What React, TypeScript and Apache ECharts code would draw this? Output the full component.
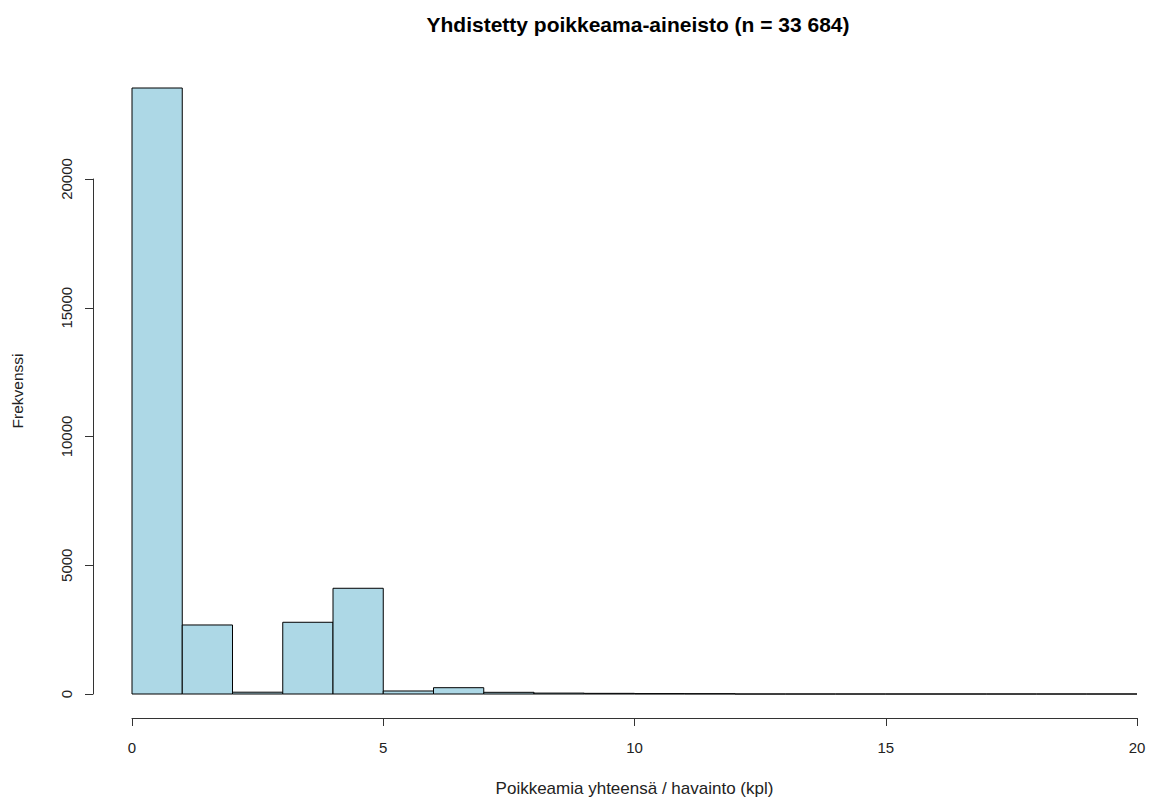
import React, { useEffect, useRef } from "react";
import * as echarts from "echarts";

const binStarts = [0, 1, 2, 3, 4, 5, 6, 7, 8, 9, 10, 11, 12, 13, 14, 15, 16, 17, 18, 19];
const binWidth = 1;
const counts = [23530, 2680, 70, 2785, 4105, 117, 245, 65, 35, 25, 15, 12, 0, 0, 0, 0, 0, 0, 0, 0];
const xTicks = [0, 5, 10, 15, 20];
const yTicks = [0, 5000, 10000, 15000, 20000];
const titleText = "Yhdistetty poikkeama-aineisto (n = 33 684)";
const xName = "Poikkeamia yhteensä / havainto (kpl)";
const yName = "Frekvenssi";

const FONT = "Liberation Sans, Arial, sans-serif";

export default function App() {
  const ref = useRef<HTMLDivElement>(null);
  useEffect(() => {
    if (!ref.current) return;
    const chart = echarts.init(ref.current, undefined, { renderer: "svg" });
    const yMax = Math.max(...counts);
    const data = binStarts.map((s, i) => [s, s + binWidth, counts[i]]);
    chart.setOption({
      animation: false,
      backgroundColor: "#fff",
      title: {
        text: titleText,
        left: 633,
        textAlign: "center",
        top: 9,
        textStyle: { fontFamily: FONT, fontSize: 21, fontWeight: "bold", color: "#000" },
      },
      grid: [
        { left: 132, right: 12, top: 88, bottom: 109 },
        { left: 132, right: 12, top: 179, bottom: 109 },
      ],
      xAxis: [
        {
          type: "value",
          gridIndex: 0,
          min: xTicks[0],
          max: xTicks[xTicks.length - 1],
          interval: 5,
          offset: 24,
          splitLine: { show: false },
          axisLine: { show: true, onZero: false, lineStyle: { color: "#333", width: 1 } },
          axisTick: { show: true, length: 8, lineStyle: { color: "#333" } },
          axisLabel: { margin: 22, fontFamily: FONT, fontSize: 15, color: "#222" },
          name: xName,
          nameLocation: "middle",
          nameGap: 62,
          nameTextStyle: { fontFamily: FONT, fontSize: 17, color: "#222" },
        },
        {
          type: "value",
          gridIndex: 1,
          min: 0,
          max: 20,
          show: false,
        },
      ],
      yAxis: [
        {
          type: "value",
          gridIndex: 0,
          min: 0,
          max: yMax,
          offset: 39,
          splitLine: { show: false },
          axisLine: { show: false },
          axisTick: { show: false },
          axisLabel: { show: false },
          name: yName,
          nameLocation: "middle",
          nameGap: 68,
          nameRotate: 90,
          nameTextStyle: { fontFamily: FONT, fontSize: 15.5, color: "#222" },
        },
        {
          type: "value",
          gridIndex: 1,
          min: yTicks[0],
          max: yTicks[yTicks.length - 1],
          interval: 5000,
          offset: 39,
          splitLine: { show: false },
          axisLine: { show: true, onZero: false, lineStyle: { color: "#333", width: 1 } },
          axisTick: { show: true, length: 8, lineStyle: { color: "#333" } },
          axisLabel: {
            rotate: 90,
            margin: 19,
            fontFamily: FONT,
            fontSize: 15,
            color: "#222",
            formatter: (v: number) => String(v),
          },
        },
      ],
      series: [
        {
          type: "custom",
          xAxisIndex: 0,
          yAxisIndex: 0,
          data,
          renderItem: (params: any, api: any) => {
            const x0 = api.value(0);
            const x1 = api.value(1);
            const y = api.value(2);
            const p0 = api.coord([x0, y]);
            const p1 = api.coord([x1, 0]);
            return {
              type: "rect",
              shape: { x: p0[0], y: p0[1], width: p1[0] - p0[0], height: p1[1] - p0[1] },
              style: { fill: "#ADD8E6", stroke: "#000", lineWidth: 1 },
            };
          },
        },
      ],
    });
    return () => chart.dispose();
  }, []);
  return (
    <div
      ref={ref}
      style={{ position: "fixed", left: 0, top: 0, width: 1149, height: 803, background: "#fff" }}
    />
  );
}
